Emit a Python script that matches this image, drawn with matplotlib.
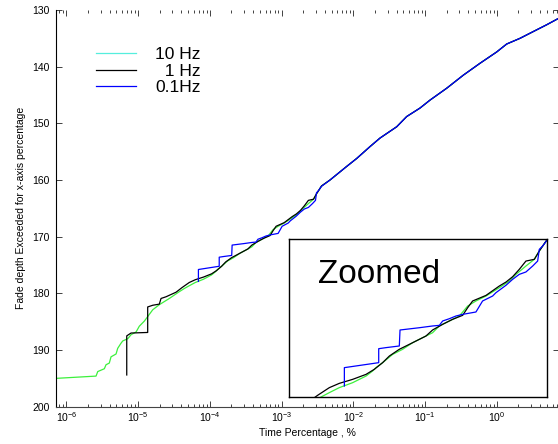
import numpy as np
import matplotlib
matplotlib.use("Agg")
import matplotlib.pyplot as plt
from matplotlib.lines import Line2D
from matplotlib.ticker import FixedLocator, NullFormatter

plt.rcParams['font.family'] = ['Liberation Sans', 'DejaVu Sans']
plt.rcParams['mathtext.fontset'] = 'custom'
plt.rcParams['mathtext.rm'] = 'Liberation Sans'

# log10 of time percentage and fade depth (dB) for each sampling rate
# part shared by all three rates at higher time percentages
shared_log_t = [-2.325, -2.092, -1.953, -1.767, -1.628, -1.395, -1.256, -1.070,
                -0.931, -0.698, -0.467, -0.234, -0.001, 0.138, 0.323, 0.509,
                0.696, 0.857]
shared_fade = [160.0, 157.6, 156.2, 154.1, 152.6, 150.6, 148.8, 147.3,
               145.9, 143.8, 141.5, 139.4, 137.4, 136.0, 135.0, 133.8,
               132.6, 131.5]

# 10 Hz
hz10_log_t = [-6.144, -5.586, -5.562, -5.470, -5.447, -5.401, -5.377, -5.307,
              -5.284, -5.238, -5.214, -5.144, -5.098, -5.027, -4.983, -4.913,
              -4.866, -4.796, -4.704, -4.564, -4.425, -4.356, -4.286, -4.202,
              -4.089, -3.976, -3.920, -3.892, -3.836, -3.751, -3.667, -3.582,
              -3.498, -3.414, -3.357, -3.273, -3.188, -3.118, -3.048, -2.963,
              -2.851, -2.766, -2.710, -2.626, -2.555, -2.513, -2.443]
hz10_fade = [195.0, 194.6, 193.8, 193.3, 192.6, 192.3, 191.2, 190.7,
             189.7, 188.8, 188.4, 188.0, 187.3, 186.8, 185.8, 184.9,
             184.1, 182.9, 182.0, 180.9, 179.7, 179.15, 178.65, 178.08,
             177.51, 176.75, 176.17, 175.79, 175.22, 174.27, 173.69, 172.93,
             172.36, 171.79, 171.02, 170.45, 169.88, 168.74, 168.16, 167.59,
             166.64, 165.88, 165.11, 164.16, 163.39, 162.44, 161.05]

# 1 Hz
hz1_log_t = [-5.158, -5.158, -5.098, -4.866, -4.866, -4.796, -4.704, -4.680,
             -4.610, -4.471, -4.385, -4.286, -4.202, -4.089, -3.976, -3.906,
             -3.836, -3.779, -3.695, -3.582, -3.470, -3.414, -3.329, -3.245,
             -3.160, -3.118, -3.076, -2.963, -2.851, -2.794, -2.738, -2.682,
             -2.626, -2.555, -2.513, -2.443]
hz1_fade = [194.4, 187.5, 187.0, 186.9, 182.4, 182.1, 181.9, 180.9,
            180.6, 179.8, 178.96, 178.08, 177.59, 177.13, 176.56, 175.98,
            175.22, 174.46, 173.69, 172.93, 172.17, 171.48, 170.83, 170.26,
            169.80, 168.93, 168.16, 167.52, 166.45, 165.99, 165.38, 164.54,
            163.59, 163.39, 162.44, 161.05]

# 0.1 Hz
hz01_log_t = [-4.159, -4.159, -3.869, -3.869, -3.808, -3.695, -3.689, -3.526,
              -3.414, -3.357, -3.329, -3.273, -3.217, -3.160, -3.048, -2.992,
              -2.907, -2.879, -2.795, -2.738, -2.682, -2.626, -2.569, -2.527,
              -2.513, -2.485, -2.443]
hz01_fade = [177.89, 175.79, 175.22, 173.62, 173.50, 173.31, 171.48, 171.22,
             171.02, 170.95, 170.45, 170.19, 169.88, 169.69, 169.42, 168.16,
             167.59, 167.21, 166.37, 165.68, 165.11, 164.84, 164.16, 163.59,
             162.25, 161.87, 161.11]

series = [
    ("10 Hz", hz10_log_t, hz10_fade, "#3cf03c"),
    ("  1 Hz", hz1_log_t, hz1_fade, "#000000"),
    ("0.1Hz", hz01_log_t, hz01_fade, "#0000ff"),
]
legend_colors = ["#55eedd", "#000000", "#0000ff"]

x_decades = [-6, -5, -4, -3, -2, -1, 0]
y_ticks = [130, 140, 150, 160, 170, 180, 190, 200]
main_xlim = (10 ** -6.144, 10 ** 0.860)
main_ylim = (200, 130)
zoom_xlim = (10 ** -4.629, 10 ** -2.448)
zoom_ylim = (179.15, 161.03)

fig = plt.figure(figsize=(5.58, 4.44), dpi=100)
ax = fig.add_axes([56 / 558, 37.3 / 444, 502.5 / 558, 396.7 / 444])


def curve(log_t, fade):
    t = np.concatenate([np.power(10.0, log_t), np.power(10.0, shared_log_t)])
    f = np.concatenate([fade, shared_fade])
    return t, f


for label, lt, fd, col in series:
    t, f = curve(lt, fd)
    ax.plot(t, f, color=col, lw=0.9, label=label)

ax.set_xscale('log')
ax.set_xlim(*main_xlim)
ax.set_ylim(*main_ylim)
ax.set_yticks(y_ticks)

major = [10.0 ** d for d in x_decades]
minor = [m * 10.0 ** d for d in [-7] + x_decades for m in range(2, 10)]
minor = [v for v in minor if main_xlim[0] <= v <= main_xlim[1]]
ax.xaxis.set_major_locator(FixedLocator(major))
ax.xaxis.set_minor_locator(FixedLocator(minor))
ax.xaxis.set_minor_formatter(NullFormatter())

ax.tick_params(axis='both', which='major', direction='in', labelsize=7.5,
               length=4, width=0.6, color='#222222')
ax.tick_params(axis='x', which='minor', direction='in', length=2.2, width=0.6,
               color='#222222')
ax.tick_params(axis='x', which='both', top=True)
ax.tick_params(axis='y', which='major', right=True, pad=4.3)
ax.tick_params(axis='x', which='major', pad=2.5)
ax.spines['top'].set_visible(False)
ax.spines['right'].set_visible(False)
for s in ('left', 'bottom'):
    ax.spines[s].set_linewidth(0.8)
ax.spines['bottom'].set_color('#444444')

ax.set_xlabel('Time Percentage , %', fontsize=7.5, labelpad=3)
ax.set_ylabel('Fade depth Exceeded for x-axis percentage', fontsize=7.5, labelpad=5)

handles = [Line2D([], [], color=c, lw=0.9) for c in legend_colors]
ax.legend(handles, [s[0] for s in series], loc='upper left',
          bbox_to_anchor=(96 / 558, 1 - 47 / 444), bbox_transform=fig.transFigure,
          frameon=False, fontsize=12.5, handlelength=2.3, handletextpad=1.1,
          labelspacing=0.08, borderpad=0, borderaxespad=0)

# zoomed view of the transition region
axz = fig.add_axes([288.7 / 558, 47 / 444, 258.3 / 558, 158.3 / 444])
axz.set_facecolor('white')
for label, lt, fd, col in series:
    t, f = curve(lt, fd)
    axz.plot(t, f, color=col, lw=0.9)
axz.set_xscale('log')
axz.set_xlim(*zoom_xlim)
axz.set_ylim(*zoom_ylim)
axz.set_xticks([])
axz.set_yticks([])
axz.minorticks_off()
for s in axz.spines.values():
    s.set_linewidth(1.0)
    s.set_color('black')
axz.text(0.113, 0.72, 'Zoomed', transform=axz.transAxes, fontsize=24,
         ha='left', va='baseline')

fig.savefig('out.png', dpi=100)
